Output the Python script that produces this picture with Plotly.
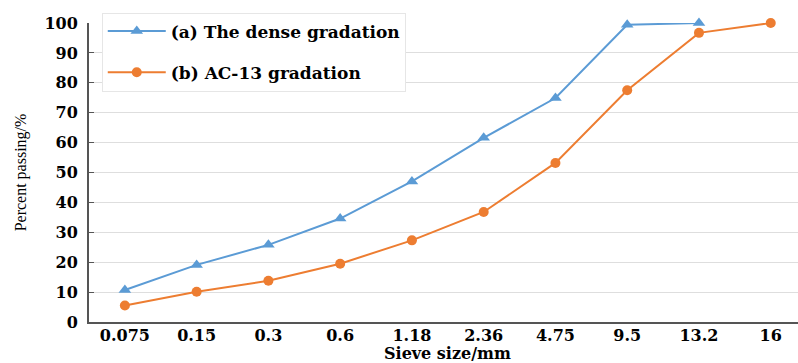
import plotly.graph_objects as go

sieve_sizes = ["0.075", "0.15", "0.3", "0.6", "1.18", "2.36", "4.75", "9.5", "13.2", "16"]
dense_gradation = [10.7, 19.1, 25.8, 34.6, 47.0, 61.6, 74.9, 99.4, 100.0, None]
ac13_gradation = [5.5, 10.1, 13.8, 19.5, 27.3, 36.8, 53.2, 77.5, 96.7, 100.0]

BLUE = "#5B9BD5"
ORANGE = "#ED7D31"
TICK_FONT = dict(family="DejaVu Serif", size=16, color="#000000", weight="bold")

fig = go.Figure()
fig.add_trace(go.Scatter(
    x=sieve_sizes, y=dense_gradation, mode="lines+markers",
    name="(a) The dense gradation", legendgroup="a",
    line=dict(color=BLUE, width=2),
    marker=dict(symbol="triangle-up", size=11, color=BLUE),
    cliponaxis=False,
))
fig.add_trace(go.Scatter(
    x=sieve_sizes, y=ac13_gradation, mode="lines+markers",
    name="(b) AC-13 gradation", legendgroup="b",
    line=dict(color=ORANGE, width=2),
    marker=dict(symbol="circle", size=10, color=ORANGE),
    cliponaxis=False,
))

fig.update_layout(
    width=798, height=363,
    margin=dict(l=89, r=0, t=23, b=41, autoexpand=False),
    paper_bgcolor="white", plot_bgcolor="white",
    showlegend=True,
    legend=dict(
        x=0.018, y=1.035, xanchor="left", yanchor="top",
        bgcolor="white", bordercolor="#e6e6e6", borderwidth=1,
        font=dict(family="DejaVu Serif", size=17, color="#000000", weight="bold"),
        tracegroupgap=16, itemwidth=58,
    ),
    xaxis=dict(
        type="category", range=[-0.5, 9.38], automargin=False,
        showline=True, linecolor="#555555", linewidth=2,
        showgrid=False, ticks="", tickfont=TICK_FONT, ticklabelstandoff=-2,
    ),
    yaxis=dict(
        range=[0, 100], dtick=10, automargin=False,
        showline=True, linecolor="#555555", linewidth=2,
        showgrid=True, gridcolor="#dedede", gridwidth=1,
        ticks="inside", ticklen=5, tickcolor="#555555", tickwidth=1,
        tickfont=TICK_FONT, ticklabelstandoff=6,
        title=dict(text="Percent passing/%",
                   font=dict(family="Liberation Serif", size=16, color="#000000"),
                   standoff=14),
        zeroline=False,
    ),
    annotations=[dict(
        text="Sieve size/mm", font=TICK_FONT, showarrow=False,
        xref="paper", yref="paper", x=0.505, y=-0.106,
        xanchor="center", yanchor="middle",
    )],
)

fig.write_html(
    "out.html",
    config={"displayModeBar": False},
    post_script="document.body.style.margin='0';document.body.style.overflow='hidden';",
)
